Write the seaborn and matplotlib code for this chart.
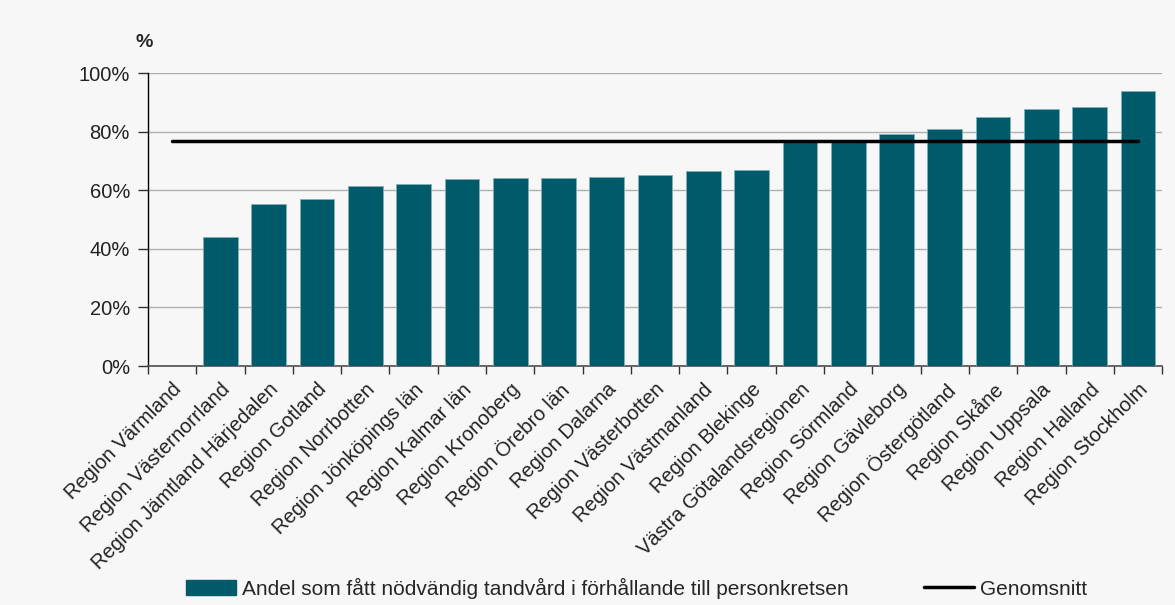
import numpy as np
import pandas as pd
import matplotlib
matplotlib.use("Agg")
import matplotlib.pyplot as plt
from matplotlib.patches import Patch
from matplotlib.lines import Line2D
from matplotlib.ticker import PercentFormatter, FixedLocator
import seaborn as sns

regions = ["Region Värmland", "Region Västernorrland", "Region Jämtland Härjedalen",
           "Region Gotland", "Region Norrbotten", "Region Jönköpings län",
           "Region Kalmar län", "Region Kronoberg", "Region Örebro län",
           "Region Dalarna", "Region Västerbotten", "Region Västmanland",
           "Region Blekinge", "Västra Götalandsregionen", "Region Sörmland",
           "Region Gävleborg", "Region Östergötland", "Region Skåne",
           "Region Uppsala", "Region Halland", "Region Stockholm"]
andel = [np.nan, 43.9, 55.5, 57.0, 61.6, 62.3, 63.9, 64.2, 64.2, 64.6, 65.4,
         66.5, 66.9, 76.8, 76.7, 79.3, 81.1, 84.9, 87.9, 88.6, 94.0]
genomsnitt = 77.0

bar_label = "Andel som fått nödvändig tandvård i förhållande till personkretsen"
line_label = "Genomsnitt"

sns.set_theme(style="white")
plt.rcParams['font.family'] = ['Liberation Sans Narrow', 'Liberation Sans', 'DejaVu Sans']

bg = "#f7f7f7"
bar_color = "#005a69"

fig = plt.figure(figsize=(11.75, 6.05), dpi=100, facecolor=bg)
ax = fig.add_axes([0.126, 0.395, 0.863, 0.484])
ax.set_facecolor(bg)

df = pd.DataFrame({"region": regions, "andel": andel})
sns.barplot(data=df, x="region", y="andel", color=bar_color, width=0.72,
            saturation=1, ax=ax, zorder=3, edgecolor="#7fb0b8", linewidth=0.6)

xs = np.arange(len(regions))
sns.lineplot(x=xs, y=[genomsnitt] * len(regions), color="black", linewidth=2.5,
             ax=ax, zorder=4)

ax.set_xlim(-0.5, len(regions) - 0.5)
ax.set_ylim(0, 100)
ax.yaxis.set_major_locator(FixedLocator([0, 20, 40, 60, 80, 100]))
ax.yaxis.set_major_formatter(PercentFormatter(decimals=0))
ax.grid(axis="y", color="#b0b0b0", linewidth=1, zorder=0)
ax.set_axisbelow(True)

for s in ["top", "right"]:
    ax.spines[s].set_visible(False)
ax.spines["left"].set_color("black")
ax.spines["bottom"].set_color("#555555")
ax.spines["left"].set_linewidth(1)

ax.set_xlabel("")
ax.set_ylabel("")
ax.set_xticks(xs)
ax.set_xticklabels(regions, rotation=45, ha="right", rotation_mode="anchor",
                   fontsize=14.5, color="#222222")
ax.tick_params(axis="x", which="major", length=0, pad=10)
ax.set_xticks(np.arange(-0.5, len(regions)), minor=True)
ax.tick_params(axis="x", which="minor", length=6, width=1, color="#333333", bottom=True)
ax.tick_params(axis="y", which="major", length=7, width=1, color="#333333", left=True,
               labelsize=14.5, labelcolor="#222222", pad=6)

fig.text(0.123, 0.93, "%", fontsize=14, fontweight="bold", ha="center", va="center")

handles = [Patch(facecolor=bar_color, edgecolor=bar_color),
           Line2D([0], [0], color="black", linewidth=2.5)]
fig.legend(handles, [bar_label, line_label], loc="center", bbox_to_anchor=(0.542, 0.028),
           ncol=2, frameon=False, fontsize=15, columnspacing=3.6, handlelength=2.4,
           handletextpad=0.3)

fig.savefig("out.png", dpi=100, facecolor=bg)
